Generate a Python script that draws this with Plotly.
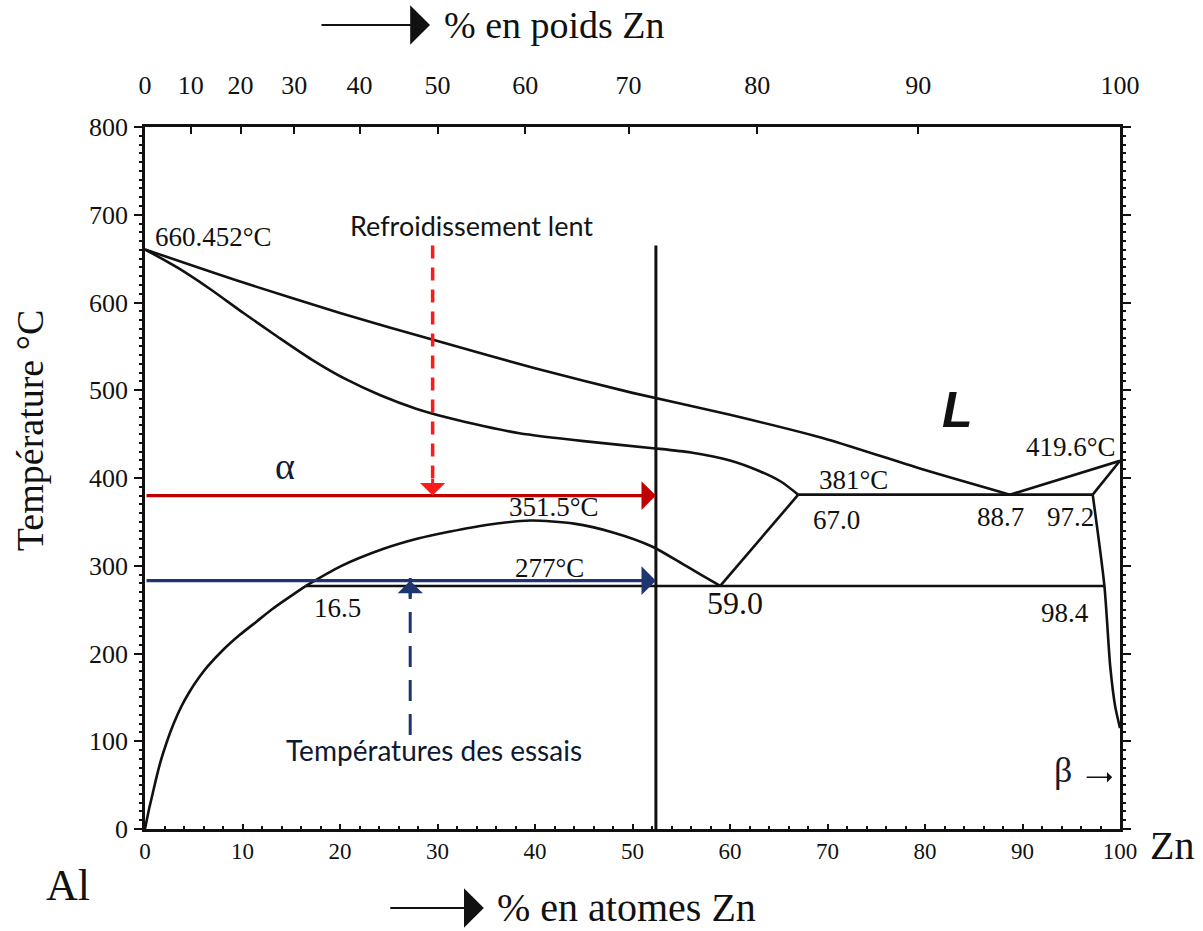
import plotly.graph_objects as go

# ---- Al–Zn phase boundaries: composition in at.% Zn, temperature in °C ----
liq_left_x = [0, 10, 20, 30, 40, 50, 60, 70, 80, 88.7]
liq_left_t = [660.452, 623, 588, 556, 525, 497, 472, 444, 409, 381]

liq_right_x = [88.7, 100]
liq_right_t = [381, 419.6]

solidus_x = [0, 3.3, 6.6, 10.1, 13.6, 17.1, 20.7, 24.2, 27.8, 31.3, 34.8, 38.4,
             45.0, 52.1, 56.0, 60.0, 63.0, 65.2, 67.0]
solidus_t = [660.452, 640, 616, 588, 561, 535, 512, 494, 479, 468, 459, 451,
             442, 434, 429, 420, 408, 396, 381]

eutectic_x = [67.0, 97.2]
eutectic_t = [381, 381]

beta_solidus_x = [97.2, 100]
beta_solidus_t = [381, 419.6]

alpha_solvus_hi_x = [67.0, 59.0]
alpha_solvus_hi_t = [381, 277]

gap_x = [16.5, 20.0, 24.4, 28.0, 31.3, 35.0, 39.5, 44.0, 48.0, 52.0, 55.0, 57.0, 59.0]
gap_t = [277, 299, 319, 331, 339, 346.5, 351.5, 348, 338, 322, 303, 290, 277]

monotectoid_x = [16.5, 98.4]
monotectoid_t = [277, 277]

alpha_solvus_lo_x = [0, 0.4, 0.8, 1.2, 1.6, 2.2, 2.9, 3.7, 4.6, 5.5, 6.4, 8.0,
                     9.7, 11.4, 13.1, 16.5]
alpha_solvus_lo_t = [0, 22, 41, 60, 77, 98, 119, 139, 157, 172, 185, 204,
                     221, 236, 251, 277]

beta_solvus_x = [97.2, 98.4, 99.0, 99.5, 100]
beta_solvus_t = [381, 277, 185, 140, 115]

# ---- alloy studied and treatment temperatures ----
alloy_x = 52.4
alloy_top_t = 665
cooling_x = 29.5
cooling_top_t = 665
hot_t = 380
cold_t = 283
test_x = 27.2
test_bottom_t = 107

# ---- axes ----
at_ticks = list(range(0, 101, 10))
wt_labels = ["0", "10", "20", "30", "40", "50", "60", "70", "80", "90", "100"]
wt_positions = [0, 4.7, 9.8, 15.3, 22.0, 30.0, 39.0, 49.6, 62.8, 79.3, 100]
temp_ticks = list(range(0, 801, 100))

SERIF = "Liberation Serif"
SANS = "Lato"
BLACK = "#111111"
DARK_RED = "#c00000"
RED = "#ff1a1a"
NAVY = "#1f3570"

fig = go.Figure()

def boundary(x, y, shape="spline"):
    fig.add_trace(go.Scatter(
        x=x, y=y, mode="lines",
        line=dict(color=BLACK, width=2.6, shape=shape, smoothing=0.7),
        hoverinfo="skip", showlegend=False))

boundary(liq_left_x, liq_left_t)
boundary(liq_right_x, liq_right_t, "linear")
boundary(solidus_x, solidus_t)
boundary(eutectic_x, eutectic_t, "linear")
boundary(beta_solidus_x, beta_solidus_t, "linear")
boundary(alpha_solvus_hi_x, alpha_solvus_hi_t, "linear")
boundary(gap_x, gap_t)
boundary(monotectoid_x, monotectoid_t, "linear")
boundary(alpha_solvus_lo_x, alpha_solvus_lo_t)
boundary(beta_solvus_x, beta_solvus_t)

# vertical line of the alloy composition
fig.add_trace(go.Scatter(
    x=[alloy_x, alloy_x], y=[0, alloy_top_t], mode="lines",
    line=dict(color=BLACK, width=3), hoverinfo="skip", showlegend=False))

# dashed slow-cooling path
fig.add_trace(go.Scatter(
    x=[cooling_x, cooling_x], y=[cooling_top_t, hot_t + 16], mode="lines",
    line=dict(color=RED, width=3.5, dash="13px,9px"),
    hoverinfo="skip", showlegend=False))

# dashed pointer from the test-temperature caption
fig.add_trace(go.Scatter(
    x=[test_x, test_x], y=[test_bottom_t, cold_t + 16], mode="lines",
    line=dict(color=NAVY, width=3, dash="21px,13px"),
    hoverinfo="skip", showlegend=False))

annotations = []

def arrow(x, y, ax, ay, color, width, size, data_tail=True):
    a = dict(x=x, y=y, xref="x", yref="y", text="", showarrow=True,
             arrowhead=1, arrowwidth=width, arrowsize=size, arrowcolor=color,
             ax=ax, ay=ay, standoff=0, startstandoff=0)
    if data_tail:
        a.update(axref="x", ayref="y")
    annotations.append(a)

# horizontal temperature arrows ending on the alloy line
arrow(alloy_x, hot_t, 0, hot_t, DARK_RED, 3.2, 1.5)
arrow(alloy_x, cold_t, 0, cold_t, NAVY, 3.2, 1.5)
# heads of the dashed arrows
arrow(cooling_x, hot_t, 0, -18, RED, 3, 1.4, data_tail=False)
arrow(test_x, cold_t, 0, 18, NAVY, 3, 1.4, data_tail=False)
# beta pointer
arrow(99.2, 59, -27, 0, BLACK, 1.6, 1.1, data_tail=False)

def label(text, x, y, size=27, family=SERIF, color=BLACK, xanchor="center", **kw):
    d = dict(text=text, x=x, y=y, xref="x", yref="y", showarrow=False,
             font=dict(family=family, size=size, color=color), xanchor=xanchor,
             yanchor="middle")
    d.update(kw)
    annotations.append(d)

label("660.452°C", 0.8, 675, 27, xanchor="left")
label("Refroidissement lent", 33.5, 688, 27, family=SANS, color="#141414")
label("α", 14.4, 414, 38, color="#141a33")
label("<b><i>L</i></b>", 83.3, 478, 50, family="Liberation Sans")
label("419.6°C", 99.8, 435, 27, xanchor="right")
label("381°C", 72.7, 398, 27)
label("351.5°C", 41.9, 367, 27)
label("67.0", 70.9, 352, 27)
label("88.7", 87.7, 355, 27)
label("97.2", 94.9, 355, 27)
label("277°C", 41.5, 297, 27)
label("16.5", 19.7, 252, 27)
label("59.0", 60.5, 258, 32)
label("98.4", 94.4, 246, 27)
label("β", 94.2, 67, 36, color="#141a33")
label("Températures des essais", 29.6, 90, 28, family=SANS, color="#101830")

# frame titles (paper coordinates)
def paper_text(text, x, y, size, **kw):
    d = dict(text=text, x=x, y=y, xref="paper", yref="paper", showarrow=False,
             font=dict(family=SERIF, size=size, color=BLACK),
             xanchor="center", yanchor="middle")
    d.update(kw)
    annotations.append(d)

paper_text("% en poids Zn", 0.4205, 1.1453, 38)
paper_text("% en atomes Zn", 0.494, -0.1125, 40)
paper_text("Al", -0.079, -0.0798, 44)
paper_text("Zn", 1.0533, -0.0228, 40)
paper_text("Température °C", -0.118, 0.568, 38, textangle=-90)

# arrows in front of the composition titles
for tip_x, tip_y, length in [(0.2923, 1.1453, 110), (0.3475, -0.1125, 95)]:
    annotations.append(dict(x=tip_x, y=tip_y, xref="paper", yref="paper", text="",
                            showarrow=True, arrowhead=1, arrowwidth=2.2,
                            arrowsize=3, arrowcolor=BLACK, ax=-length, ay=0,
                            standoff=0, startstandoff=0))

# invisible trace so the weight-percent axis is drawn
fig.add_trace(go.Scatter(x=[0, 100], y=[0, 0], xaxis="x2", mode="markers",
                         marker=dict(opacity=0), hoverinfo="skip", showlegend=False))

axis_font = dict(family=SERIF, size=26, color=BLACK)

fig.update_layout(
    width=1203, height=931,
    margin=dict(l=145, r=83, t=127, b=102),
    paper_bgcolor="white", plot_bgcolor="white",
    showlegend=False,
    annotations=annotations,
    xaxis=dict(range=[0, 100], tickvals=at_ticks, ticktext=[str(v) for v in at_ticks],
               showgrid=False, zeroline=False, showline=True, linecolor=BLACK,
               linewidth=2.5, ticks="inside", ticklen=5, tickwidth=2, tickcolor=BLACK,
               minor=dict(ticks="inside", ticklen=3, dtick=2, tickcolor=BLACK, tickwidth=1.5),
               tickfont=dict(family=SERIF, size=23, color=BLACK), ticklabelstandoff=0),
    xaxis2=dict(range=[0, 100], overlaying="x", side="top", tickvals=wt_positions,
                ticktext=wt_labels, showgrid=False, zeroline=False, showline=True,
                linecolor=BLACK, linewidth=2.5, ticks="inside", ticklen=7, tickwidth=2,
                tickcolor=BLACK, tickfont=axis_font, ticklabelstandoff=20),
    yaxis=dict(range=[0, 800], tickvals=temp_ticks, showgrid=False, zeroline=False,
               showline=True, linecolor=BLACK, linewidth=2.5, mirror="ticks",
               ticks="outside", ticklen=8, tickwidth=2, tickcolor=BLACK,
               minor=dict(ticks="outside", ticklen=3, dtick=10, tickcolor=BLACK, tickwidth=1.5),
               tickfont=axis_font, ticklabelstandoff=1),
)

fig.write_html("out.html")
